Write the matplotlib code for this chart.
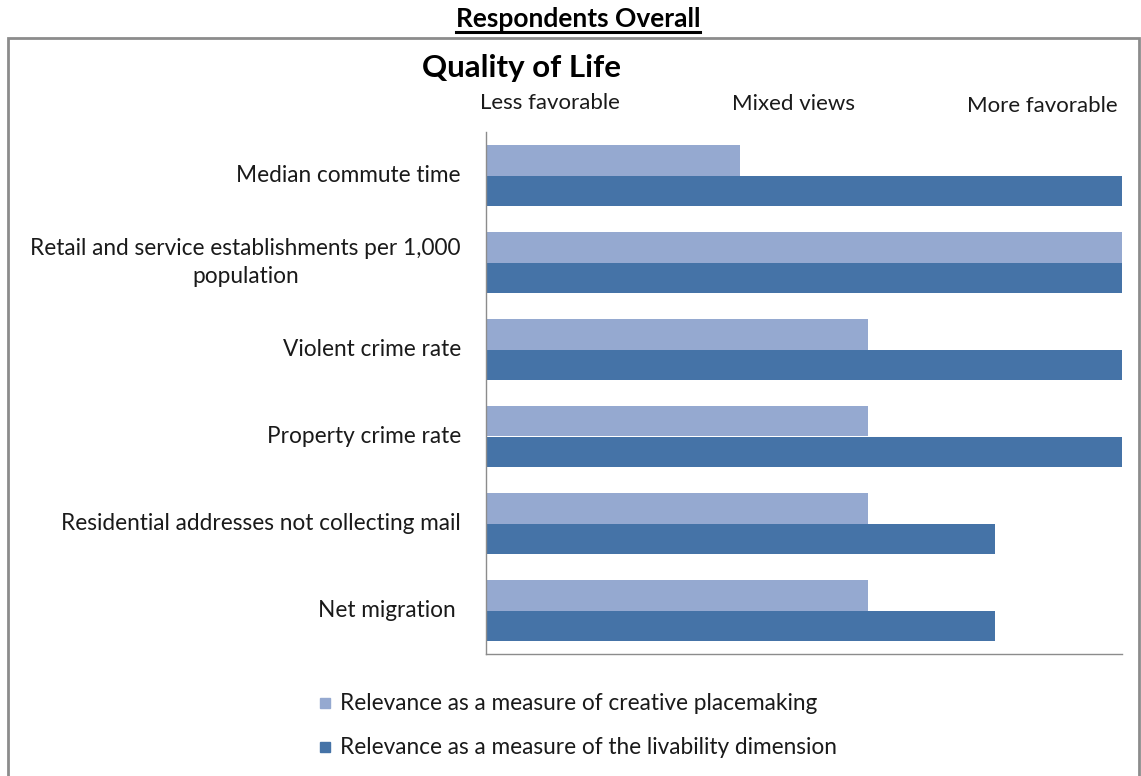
import numpy as np
import matplotlib.pyplot as plt
from matplotlib.patches import Rectangle
from matplotlib.lines import Line2D

plt.rcParams['font.family'] = ['Lato', 'DejaVu Sans']

categories = ['Median commute time',
              'Retail and service establishments per 1,000\npopulation',
              'Violent crime rate',
              'Property crime rate',
              'Residential addresses not collecting mail',
              'Net migration ']
creative = [2, 5, 3, 3, 3, 3]
livability = [5, 5, 5, 5, 4, 4]
scale_labels = ['Less favorable', 'Mixed views', 'More favorable']
series_names = ['Relevance as a measure of creative placemaking',
                'Relevance as a measure of the livability dimension']

light = '#95a9d0'
dark = '#4573a7'

fig = plt.figure(figsize=(11.41, 7.76), dpi=100)
W, H = 1141, 776

# outer chart frame
fig.patches.append(Rectangle((8 / W, -0.05), 1131 / W, (H - 38) / H + 0.05,
                             transform=fig.transFigure, fill=False,
                             edgecolor='#8c8c8c', lw=2))

ax = fig.add_axes([486 / W, 122 / H, 636 / W, 522 / H])
y = np.arange(len(categories))
h = 0.355
ax.barh(y - h / 2, creative, height=h, color=light, label=series_names[0])
ax.barh(y + h / 2, livability, height=h, color=dark, label=series_names[1])
ax.set_xlim(0, 5)
ax.set_ylim(len(categories) - 0.5, -0.5)
ax.set_xticks([])
ax.set_yticks([])
for s in ['top', 'right']:
    ax.spines[s].set_visible(False)
for s in ['left', 'bottom']:
    ax.spines[s].set_color('#8c8c8c')
    ax.spines[s].set_linewidth(1)

for yi, lab in zip(y, categories):
    ax.text(-25 / 127.2, yi, lab, ha='right', va='center', fontsize=16.3,
            multialignment='center', linespacing=1.45, color='#1a1a1a')

# scale labels above the plot
for xp, yp, lab in zip([550, 794, 1042], [103, 104, 106], scale_labels):
    fig.text(xp / W, 1 - yp / H, lab, ha='center', va='center', fontsize=16,
             color='#1a1a1a')

fig.text(422 / W, 1 - 68 / H, 'Quality of Life', ha='left', va='center',
         fontsize=22.5, fontweight='bold')

t = fig.text(578 / W, 1 - 19 / H, 'Respondents Overall', ha='center',
             va='center', fontsize=19, fontweight='bold')
fig.canvas.draw()
bb = t.get_window_extent(fig.canvas.get_renderer())
uy = (bb.y0 - 1) / fig.bbox.height
fig.lines.append(Line2D([bb.x0 / fig.bbox.width, bb.x1 / fig.bbox.width],
                        [uy, uy], transform=fig.transFigure, color='black',
                        lw=2.2))

# legend
for i, (name, col) in enumerate(zip(series_names, [light, dark])):
    yy = 703 + 44 * i
    fig.patches.append(Rectangle((320 / W, 1 - (yy + 5) / H), 10 / W, 10 / H,
                                 transform=fig.transFigure, color=col))
    fig.text(340 / W, 1 - yy / H, name, ha='left', va='center', fontsize=16.3,
             color='#1a1a1a')

fig.savefig('out.png', dpi=100)
